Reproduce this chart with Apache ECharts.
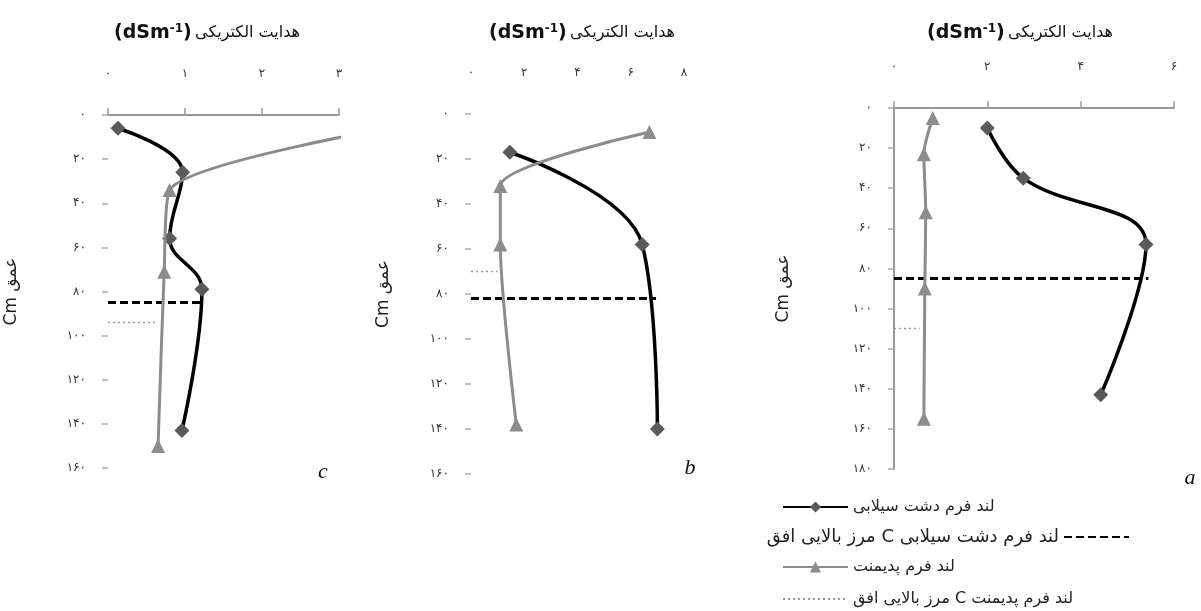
<!DOCTYPE html>
<html>
<head>
<meta charset="utf-8">
<script src="https://cdn.jsdelivr.net/npm/echarts@6/dist/echarts.min.js"></script>
<style>
  html, body { margin: 0; padding: 0; background: #fff; }
  #chart { width: 1201px; height: 611px; }
</style>
</head>
<body>
<div id="chart"></div>
<script>
// names of the four series (legend)
const nameFlood = 'لند فرم دشت سیلابی';
const nameFloodC = 'مرز بالایی افق C لند فرم دشت سیلابی';
const namePed = 'لند فرم پدیمنت';
const namePedC = 'مرز بالایی افق C لند فرم پدیمنت';

// panel c
const ecFloodC = [0.13, 0.97, 0.8, 1.22, 0.96];
const depthFloodC = [6, 26, 56, 79, 143];
const ecPedC = [3.8, 0.8, 0.73, 0.65];
const depthPedC = [5, 34, 71, 150];

// panel b
const ecFloodB = [1.46, 6.43, 7.0];
const depthFloodB = [17, 58, 140];
const ecPedB = [6.7, 1.1, 1.1, 1.7];
const depthPedB = [8, 32, 58, 138];

// panel a
const ecFloodA = [2.0, 2.77, 5.4, 4.43];
const depthFloodA = [10, 35, 68, 143];
const ecPedA = [0.83, 0.64, 0.68, 0.66, 0.64];
const depthPedA = [5, 23, 52, 90, 155];

// upper boundary of horizon C, order: c, b, a
const boundaryDepthFlood = [85, 82, 85];
const boundaryEcFlood = [1.2, 6.95, 5.45];
const boundaryDepthPed = [94, 70, 110];
const boundaryEcPed = [0.62, 1.0, 0.55];

// axis ranges, order: c, b, a
const xMax = [3, 8, 6];
const xStep = [1, 2, 2];
const yMax = [160, 160, 180];
const yStep = 20;

const fa = v => String(v).replace(/\d/g, d => '۰۱۲۳۴۵۶۷۸۹'[d]);
const pts = (xs, ys) => xs.map((v, i) => [v, ys[i]]);

const chart = echarts.init(document.getElementById('chart'));

const font = 'DejaVu Sans';
const grids = [
  { left: 108, top: 115, width: 231, height: 353 },
  { left: 471, top: 114, width: 213, height: 360 },
  { left: 894, top: 108, width: 280, height: 361 }
];
const showXLine = [true, false, true];
const showYLine = [false, false, true];
const yNameGap = [88, 79, 102];

const xAxes = grids.map((g, i) => ({
  type: 'value', gridIndex: i, position: 'top', min: 0, max: xMax[i], interval: xStep[i],
  axisLine: { show: showXLine[i], lineStyle: { color: '#999', width: 2 } },
  axisTick: { show: showXLine[i], length: 7, lineStyle: { color: '#999', width: 1.5 } },
  axisLabel: { margin: 35, color: '#333', fontSize: 12, fontFamily: font, formatter: fa },
  splitLine: { show: false }
}));

const yAxes = grids.map((g, i) => ({
  type: 'value', gridIndex: i, inverse: true, min: 0, max: yMax[i], interval: yStep,
  name: 'Cm عمق', nameLocation: 'middle', nameRotate: 90, nameGap: yNameGap[i],
  nameTextStyle: { fontSize: 17, color: '#222', fontFamily: font },
  axisLine: { show: showYLine[i], lineStyle: { color: '#999', width: 2 } },
  axisTick: { show: true, length: 6, lineStyle: { color: '#aaa', width: 1.5 } },
  axisLabel: { margin: 22, color: '#333', fontSize: 12, fontFamily: font, formatter: fa },
  splitLine: { show: false }
}));

const floodData = [pts(ecFloodC, depthFloodC), pts(ecFloodB, depthFloodB), pts(ecFloodA, depthFloodA)];
const pedData = [pts(ecPedC, depthPedC), pts(ecPedB, depthPedB), pts(ecPedA, depthPedA)];

const series = [];
for (let i = 0; i < 3; i++) {
  series.push({
    name: nameFlood, type: 'line', xAxisIndex: i, yAxisIndex: i, smooth: 0.4,
    data: floodData[i], symbol: 'diamond', symbolSize: 15,
    lineStyle: { color: '#000', width: 3.5 }, itemStyle: { color: '#5a5a5a' }, z: 4
  });
  series.push({
    name: nameFloodC, type: 'line', xAxisIndex: i, yAxisIndex: i, symbol: 'none',
    data: [[0, boundaryDepthFlood[i]], [boundaryEcFlood[i], boundaryDepthFlood[i]]],
    lineStyle: { color: '#000', width: 3, type: [8, 4] }, itemStyle: { color: '#000' }, z: 3
  });
  series.push({
    name: namePed, type: 'line', xAxisIndex: i, yAxisIndex: i, smooth: 0.25,
    data: pedData[i], symbol: 'triangle', symbolSize: 14,
    lineStyle: { color: '#8c8c8c', width: 3 }, itemStyle: { color: '#8c8c8c' }, z: 5
  });
  series.push({
    name: namePedC, type: 'line', xAxisIndex: i, yAxisIndex: i, symbol: 'none',
    data: [[0, boundaryDepthPed[i]], [boundaryEcPed[i], boundaryDepthPed[i]]],
    lineStyle: { color: '#999', width: 1.5, type: [2, 3] }, itemStyle: { color: '#999' }, z: 3
  });
}

const legendBase = {
  orient: 'vertical', itemWidth: 65, itemHeight: 14, selectedMode: false,
  textStyle: { fontSize: 16, color: '#222', fontFamily: font }
};
const noSymbol = { color: 'transparent', borderColor: 'transparent', borderWidth: 0 };

const titleCenters = [207, 582, 1020];
const letters = [['c', 323, 472], ['b', 690, 468], ['a', 1190, 478]];

chart.setOption({
  animation: false,
  backgroundColor: '#fff',
  grid: grids,
  xAxis: xAxes,
  yAxis: yAxes,
  series: series,
  legend: [
    Object.assign({}, legendBase, { data: [nameFlood], left: 777, top: 494, align: 'left' }),
    Object.assign({}, legendBase, { data: [{ name: nameFloodC, itemStyle: noSymbol }], right: 66, top: 523, align: 'right',
      textStyle: { fontSize: 18, color: '#222', fontFamily: font } }),
    Object.assign({}, legendBase, { data: [namePed], left: 777, top: 554, align: 'left' }),
    Object.assign({}, legendBase, { data: [{ name: namePedC, itemStyle: noSymbol }], left: 777, top: 586, align: 'left' })
  ],
  graphic: titleCenters.map(x => ({
    type: 'text', x: x, y: 33,
    style: {
      text: '{b|(dSm}{s|-1}{b|)} {p|هدایت الکتریکی}',
      align: 'center', verticalAlign: 'middle',
      rich: {
        b: { fontSize: 19, fontWeight: 'bold', fontFamily: font, fill: '#111' },
        s: { fontSize: 12, fontWeight: 'bold', fontFamily: font, fill: '#111', verticalAlign: 'top', padding: [0, 0, 8, 0] },
        p: { fontSize: 16, fontFamily: font, fill: '#111' }
      }
    }
  })).concat(letters.map(l => ({
    type: 'text', x: l[1], y: l[2],
    style: { text: l[0], align: 'center', verticalAlign: 'middle',
      font: 'italic 22px "Liberation Serif"', fill: '#111' }
  })))
});

window.addEventListener('resize', function () {
  chart.resize();
});
</script>
</body>
</html>
